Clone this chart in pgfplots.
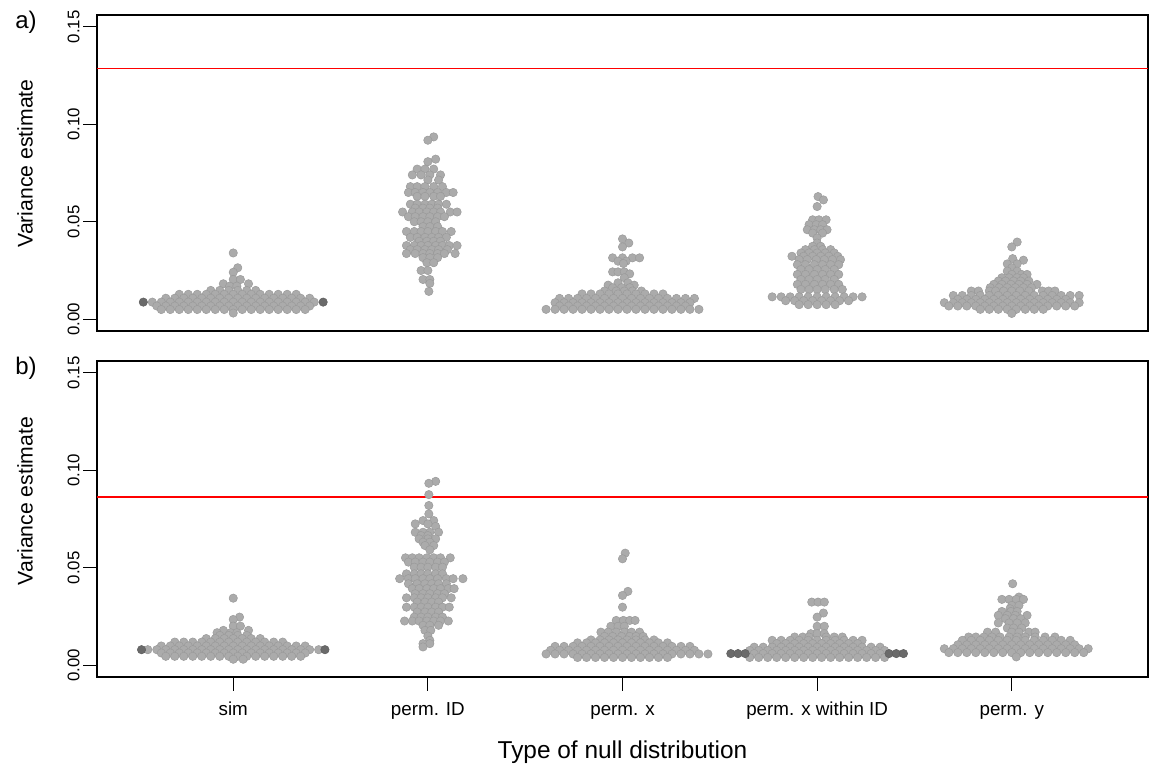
\documentclass[border=0pt]{standalone}
\usepackage{fontspec}
\setmainfont{Liberation Sans}
\usepackage{pgfplots}
\pgfplotsset{compat=1.18}
\usepackage{pgfplotstable}
\definecolor{ptfill}{HTML}{ABABAB}
\definecolor{ptdraw}{HTML}{9A9A9A}
\definecolor{dkfill}{HTML}{6A6A6A}
\definecolor{dkdraw}{HTML}{5E5E5E}
\definecolor{refred}{RGB}{255,0,0}
\pgfplotsset{
  pts/.style={only marks, mark=*, mark size=2.1pt, mark options={fill=ptfill, draw=ptdraw, line width=0.25pt}},
  dk/.style={only marks, mark=*, mark size=2.1pt, mark options={fill=dkfill, draw=dkdraw, line width=0.25pt}},
}
% ---------------- panel a ----------------
\pgfplotstableread[row sep=\\]{
dx y\\
0 0.034\\ 0.5 0.0264\\ 0 0.0241\\ 0 0.0204\\ 0.8 0.0204\\ -1.1 0.0182\\ 1.7 0.0182\\ -0.4 0.017\\ 0.4 0.017\\
-2.5 0.0148\\ -1.5 0.0148\\ -0.5 0.0148\\ 0.5 0.0148\\ 1.5 0.0148\\ 2.5 0.0148\\
-6 0.0128\\ -5 0.0128\\ -4 0.0128\\ -3 0.0128\\ -2 0.0128\\ -1 0.0128\\ 0 0.0128\\ 1 0.0128\\ 2 0.0128\\ 3 0.0128\\ 4 0.0128\\ 5 0.0128\\ 6 0.0128\\ 7 0.0128\\
-7.5 0.0108\\ -6.5 0.0108\\ -5.5 0.0108\\ -4.5 0.0108\\ -3.5 0.0108\\ -2.5 0.0108\\ -1.5 0.0108\\ -0.5 0.0108\\ 0.5 0.0108\\ 1.5 0.0108\\ 2.5 0.0108\\ 3.5 0.0108\\ 4.5 0.0108\\ 5.5 0.0108\\ 6.5 0.0108\\ 7.5 0.0108\\ 8.5 0.0108\\
-9 0.0088\\ -8 0.0088\\ -7 0.0088\\ -6 0.0088\\ -5 0.0088\\ -4 0.0088\\ -3 0.0088\\ -2 0.0088\\ -1 0.0088\\ 0 0.0088\\ 1 0.0088\\ 2 0.0088\\ 3 0.0088\\ 4 0.0088\\ 5 0.0088\\ 6 0.0088\\ 7 0.0088\\ 8 0.0088\\ 9 0.0088\\
-8.5 0.0068\\ -7.5 0.0068\\ -6.5 0.0068\\ -5.5 0.0068\\ -4.5 0.0068\\ -3.5 0.0068\\ -2.5 0.0068\\ -1.5 0.0068\\ -0.5 0.0068\\ 0.5 0.0068\\ 1.5 0.0068\\ 2.5 0.0068\\ 3.5 0.0068\\ 4.5 0.0068\\ 5.5 0.0068\\ 6.5 0.0068\\ 7.5 0.0068\\ 8.5 0.0068\\
-8 0.005\\ -7 0.005\\ -6 0.005\\ -5 0.005\\ -4 0.005\\ -3 0.005\\ -2 0.005\\ -1 0.005\\ 0 0.005\\ 1 0.005\\ 2 0.005\\ 3 0.005\\ 4 0.005\\ 5 0.005\\ 6 0.005\\ 7 0.005\\ 8 0.005\\
0 0.0032\\
}\Aa
\pgfplotstableread[row sep=\\]{
dx y\\
-10 0.0088\\ 10 0.0088\\
}\Aadk
\pgfplotstableread[row sep=\\]{
dx y\\
0.6 0.0935\\ 0 0.0918\\ 0.8 0.0821\\ 0 0.0808\\
-1.1 0.077\\ -0.3 0.077\\ 0.6 0.077\\
-1.6 0.074\\ -0.7 0.074\\ 0.2 0.074\\ 1.3 0.074\\
0 0.0714\\ 1.1 0.0714\\
-1.8 0.068\\ -1.1 0.068\\ -0.3 0.068\\ 0.6 0.068\\ 1.5 0.068\\
-2 0.065\\ -1.3 0.065\\ -0.5 0.065\\ 0.2 0.065\\ 1 0.065\\ 1.9 0.065\\ 2.6 0.065\\
-1.1 0.063\\ -0.3 0.063\\ 0.6 0.063\\ 1.3 0.063\\
-1.8 0.059\\ -1.1 0.059\\ -0.3 0.059\\ 0.4 0.059\\ 1.1 0.059\\ 1.9 0.059\\
-1.3 0.057\\ -0.5 0.057\\ 0.2 0.057\\ 1 0.057\\
-2.6 0.055\\ -1.6 0.055\\ -0.9 0.055\\ -0.1 0.055\\ 0.6 0.055\\ 1.3 0.055\\ 2.3 0.055\\ 3 0.055\\
-2 0.0526\\ -1.3 0.0526\\ -0.5 0.0526\\ 0.2 0.0526\\ 1 0.0526\\ 1.7 0.0526\\
-1.4 0.05\\ -0.7 0.05\\ 0 0.05\\ 0.8 0.05\\
-0.5 0.0475\\ 0.2 0.0475\\ 1 0.0475\\
-2.2 0.045\\ -1.4 0.045\\ -0.7 0.045\\ 0 0.045\\ 0.8 0.045\\ 1.5 0.045\\ 2.4 0.045\\
-1.8 0.042\\ -1.1 0.042\\ -0.3 0.042\\ 0.4 0.042\\ 1.1 0.042\\ 1.9 0.042\\
-0.9 0.04\\ -0.1 0.04\\ 0.6 0.04\\ 1.3 0.04\\
-2.2 0.0378\\ -1.4 0.0378\\ -0.7 0.0378\\ 0 0.0378\\ 0.8 0.0378\\ 1.5 0.0378\\ 2.2 0.0378\\ 3 0.0378\\
-1.8 0.0357\\ -1.1 0.0357\\ -0.3 0.0357\\ 0.4 0.0357\\ 1.1 0.0357\\ 2 0.0357\\
-2.2 0.0337\\ -1.3 0.0337\\ -0.5 0.0337\\ 0.2 0.0337\\ 1 0.0337\\ 1.7 0.0337\\ 2.8 0.0337\\
-0.5 0.0316\\ 0.2 0.0316\\ 1 0.0316\\
-0.1 0.029\\ 0.6 0.029\\
-0.7 0.025\\ 0 0.025\\
-0.5 0.0204\\ 0.2 0.0204\\
0.2 0.0184\\ 0.1 0.0143\\
}\Ab
\pgfplotstableread[row sep=\\]{
dx y\\
0 0.0412\\ 0.7 0.0391\\ 0 0.0371\\
-1.1 0.0315\\ 0 0.0315\\ 1.1 0.0315\\ 1.9 0.0315\\
-0.5 0.0298\\ 0.4 0.0298\\ 0.1 0.0286\\
-1.1 0.0243\\ -0.5 0.0243\\ 0.2 0.0243\\ 0.8 0.0233\\ 0.2 0.0213\\
-0.5 0.0187\\ 0.6 0.0187\\ -1.6 0.0175\\ 1.3 0.0175\\
-1.1 0.0162\\ -0.1 0.0162\\ 0.8 0.0162\\
-2 0.0145\\ -0.7 0.0145\\ 0.2 0.0145\\ 1.1 0.0145\\ 2.1 0.0145\\
-4.5 0.013\\ -3.5 0.013\\ -2.5 0.013\\ -1.5 0.013\\ -0.5 0.013\\ 0.5 0.013\\ 1.5 0.013\\ 2.5 0.013\\ 3.5 0.013\\ 4.5 0.013\\
-7 0.0107\\ -6 0.0107\\ -5 0.0107\\ -4 0.0107\\ -3 0.0107\\ -2 0.0107\\ -1 0.0107\\ 0 0.0107\\ 1 0.0107\\ 2 0.0107\\ 3 0.0107\\ 4 0.0107\\ 5 0.0107\\ 6 0.0107\\ 7 0.0107\\ 8 0.0107\\
-7.5 0.0085\\ -6.5 0.0085\\ -5.5 0.0085\\ -4.5 0.0085\\ -3.5 0.0085\\ -2.5 0.0085\\ -1.5 0.0085\\ -0.5 0.0085\\ 0.5 0.0085\\ 1.5 0.0085\\ 2.5 0.0085\\ 3.5 0.0085\\ 4.5 0.0085\\ 5.5 0.0085\\ 6.5 0.0085\\ 7.5 0.0085\\
-7 0.0068\\ -6 0.0068\\ -5 0.0068\\ -4 0.0068\\ -3 0.0068\\ -2 0.0068\\ -1 0.0068\\ 0 0.0068\\ 1 0.0068\\ 2 0.0068\\ 3 0.0068\\ 4 0.0068\\ 5 0.0068\\ 6 0.0068\\ 7 0.0068\\
-8.5 0.0051\\ -7.5 0.0051\\ -6.5 0.0051\\ -5.5 0.0051\\ -4.5 0.0051\\ -3.5 0.0051\\ -2.5 0.0051\\ -1.5 0.0051\\ -0.5 0.0051\\ 0.5 0.0051\\ 1.5 0.0051\\ 2.5 0.0051\\ 3.5 0.0051\\ 4.5 0.0051\\ 5.5 0.0051\\ 6.5 0.0051\\ 7.5 0.0051\\ 8.5 0.0051\\
}\Ac
\pgfplotstableread[row sep=\\]{
dx y\\
0.1 0.0629\\ 0.7 0.0612\\ 0 0.0578\\
-0.5 0.051\\ 0.2 0.051\\ 1 0.051\\
-0.9 0.0485\\ -0.1 0.0485\\ 0.6 0.0485\\
-1.1 0.0459\\ -0.3 0.0459\\ 0.4 0.0459\\ 1.1 0.0459\\
-0.5 0.0442\\ 0.6 0.0442\\
0 0.0417\\ 0 0.0391\\
-0.5 0.0374\\ 0.4 0.0374\\
-1.3 0.0357\\ -0.3 0.0357\\ 0.6 0.0357\\ 1.5 0.0357\\
-1.8 0.034\\ -0.9 0.034\\ 0 0.034\\ 0.9 0.034\\ 1.9 0.034\\
-2.8 0.0323\\ -1.5 0.0323\\ -0.5 0.0323\\ 0.4 0.0323\\ 1.3 0.0323\\ 2.3 0.0323\\
-2 0.0306\\ -1.1 0.0306\\ -0.1 0.0306\\ 0.8 0.0306\\ 1.7 0.0306\\ 2.6 0.0306\\
-2.2 0.028\\ -1.3 0.028\\ -0.3 0.028\\ 0.6 0.028\\ 1.5 0.028\\ 2.4 0.028\\
-1.8 0.0255\\ -0.9 0.0255\\ 0 0.0255\\ 0.9 0.0255\\ 1.9 0.0255\\
-2.2 0.023\\ -1.3 0.023\\ -0.3 0.023\\ 0.6 0.023\\ 1.5 0.023\\ 2.4 0.023\\
-1.8 0.0204\\ -0.9 0.0204\\ 0 0.0204\\ 0.9 0.0204\\ 1.9 0.0204\\
-2.2 0.0179\\ -1.3 0.0179\\ -0.3 0.0179\\ 0.6 0.0179\\ 1.5 0.0179\\ 2.4 0.0179\\
-1.8 0.0153\\ -0.9 0.0153\\ 0 0.0153\\ 0.9 0.0153\\ 1.9 0.0153\\ 2.8 0.0153\\
-5 0.0115\\ -4 0.0115\\ -3 0.0115\\ -2 0.0115\\ -1 0.0115\\ 0 0.0115\\ 1 0.0115\\ 2 0.0115\\ 3 0.0115\\ 4 0.0115\\ 5 0.0115\\
-3.5 0.0095\\ -2.5 0.0095\\ -1.5 0.0095\\ -0.5 0.0095\\ 0.5 0.0095\\ 1.5 0.0095\\ 2.5 0.0095\\ 3.5 0.0095\\
-2 0.0075\\ -1 0.0075\\ 0 0.0075\\ 1 0.0075\\ 2 0.0075\\
}\Ad
\pgfplotstableread[row sep=\\]{
dx y\\
0.6 0.0396\\ 0 0.0371\\ 0.1 0.0311\\ 1.3 0.0303\\
-0.5 0.0284\\ 0.6 0.0284\\ 0 0.0264\\ -0.5 0.0247\\ 0.6 0.0247\\
0 0.023\\ 1.1 0.023\\ 1.7 0.023\\
-1.1 0.0213\\ -0.3 0.0213\\ 0.6 0.0213\\ 1.3 0.0213\\
-1.5 0.0196\\ -0.7 0.0196\\ 0.2 0.0196\\ 1 0.0196\\ 1.9 0.0196\\
-2 0.0179\\ -1.1 0.0179\\ -0.1 0.0179\\ 0.8 0.0179\\ 1.7 0.0179\\ 2.8 0.0179\\
-2.4 0.0162\\ -1.4 0.0162\\ -0.5 0.0162\\ 0.4 0.0162\\ 1.3 0.0162\\ 2.2 0.0162\\
-4.5 0.0145\\ -3.7 0.0145\\ -2.5 0.0145\\ -1.8 0.0145\\ -0.9 0.0145\\ 0 0.0145\\ 0.9 0.0145\\ 1.9 0.0145\\ 3.4 0.0145\\ 4.1 0.0145\\ 4.8 0.0145\\
-6.5 0.0122\\ -5.5 0.0122\\ -4.5 0.0122\\ -3.5 0.0122\\ -2.5 0.0122\\ -1.5 0.0122\\ -0.5 0.0122\\ 0.5 0.0122\\ 1.5 0.0122\\ 2.5 0.0122\\ 3.5 0.0122\\ 4.5 0.0122\\ 5.5 0.0122\\ 6.5 0.0122\\ 7.5 0.0122\\
-6 0.0102\\ -5 0.0102\\ -4 0.0102\\ -3 0.0102\\ -2 0.0102\\ -1 0.0102\\ 0 0.0102\\ 1 0.0102\\ 2 0.0102\\ 3 0.0102\\ 4 0.0102\\ 5 0.0102\\ 6 0.0102\\
-7.5 0.0085\\ -6.5 0.0085\\ -5.5 0.0085\\ -4.5 0.0085\\ -3.5 0.0085\\ -2.5 0.0085\\ -1.5 0.0085\\ -0.5 0.0085\\ 0.5 0.0085\\ 1.5 0.0085\\ 2.5 0.0085\\ 3.5 0.0085\\ 4.5 0.0085\\ 5.5 0.0085\\ 6.5 0.0085\\ 7.5 0.0085\\
-7 0.0068\\ -6 0.0068\\ -5 0.0068\\ -4 0.0068\\ -3 0.0068\\ -2 0.0068\\ -1 0.0068\\ 0 0.0068\\ 1 0.0068\\ 2 0.0068\\ 3 0.0068\\ 4 0.0068\\ 5 0.0068\\ 6 0.0068\\ 7 0.0068\\
-3.5 0.0051\\ -2.5 0.0051\\ -1.5 0.0051\\ -0.5 0.0051\\ 0.5 0.0051\\ 1.5 0.0051\\ 2.5 0.0051\\ 3.5 0.0051\\
0 0.003\\
}\Ae
% ---------------- panel b ----------------
\pgfplotstableread[row sep=\\]{
dx y\\
0 0.0344\\ 0.7 0.0247\\ 0 0.0235\\ 0 0.0201\\ 0.8 0.0201\\ -1.1 0.0179\\ 1.7 0.0179\\
-1.8 0.0167\\ -0.3 0.0167\\ 0.4 0.0167\\
-1.5 0.0153\\ -0.5 0.0153\\ 0.5 0.0153\\ 1.5 0.0153\\
-3 0.0137\\ -2 0.0137\\ -1 0.0137\\ 0 0.0137\\ 1 0.0137\\ 2 0.0137\\ 3 0.0137\\
-6.5 0.0119\\ -5.5 0.0119\\ -4.5 0.0119\\ -3.5 0.0119\\ -2.5 0.0119\\ -1.5 0.0119\\ -0.5 0.0119\\ 0.5 0.0119\\ 1.5 0.0119\\ 2.5 0.0119\\ 3.5 0.0119\\ 4.5 0.0119\\ 5.5 0.0119\\
-8 0.0099\\ -7 0.0099\\ -6 0.0099\\ -5 0.0099\\ -4 0.0099\\ -3 0.0099\\ -2 0.0099\\ -1 0.0099\\ 0 0.0099\\ 1 0.0099\\ 2 0.0099\\ 3 0.0099\\ 4 0.0099\\ 5 0.0099\\ 6 0.0099\\ 7 0.0099\\ 8 0.0099\\
-9.5 0.008\\ -8.5 0.008\\ -7.5 0.008\\ -6.5 0.008\\ -5.5 0.008\\ -4.5 0.008\\ -3.5 0.008\\ -2.5 0.008\\ -1.5 0.008\\ -0.5 0.008\\ 0.5 0.008\\ 1.5 0.008\\ 2.5 0.008\\ 3.5 0.008\\ 4.5 0.008\\ 5.5 0.008\\ 6.5 0.008\\ 7.5 0.008\\ 8.5 0.008\\ 9.5 0.008\\
-8 0.0063\\ -7 0.0063\\ -6 0.0063\\ -5 0.0063\\ -4 0.0063\\ -3 0.0063\\ -2 0.0063\\ -1 0.0063\\ 0 0.0063\\ 1 0.0063\\ 2 0.0063\\ 3 0.0063\\ 4 0.0063\\ 5 0.0063\\ 6 0.0063\\ 7 0.0063\\ 8 0.0063\\
-7.5 0.0046\\ -6.5 0.0046\\ -5.5 0.0046\\ -4.5 0.0046\\ -3.5 0.0046\\ -2.5 0.0046\\ -1.5 0.0046\\ -0.5 0.0046\\ 0.5 0.0046\\ 1.5 0.0046\\ 2.5 0.0046\\ 3.5 0.0046\\ 4.5 0.0046\\ 5.5 0.0046\\ 6.5 0.0046\\ 7.5 0.0046\\
0 0.0031\\ 1.1 0.0031\\
}\Ba
\pgfplotstableread[row sep=\\]{
dx y\\
-10.2 0.008\\ 10.2 0.008\\
}\Badk
\pgfplotstableread[row sep=\\]{
dx y\\
0.8 0.0943\\ 0.1 0.0933\\ 0.1 0.0875\\ 0.1 0.0819\\ 0.1 0.0776\\
-0.5 0.0742\\ 0.6 0.0742\\ -1.3 0.0725\\ 0 0.0725\\ 0.8 0.0712\\
-1.3 0.0682\\ -0.5 0.0682\\ 0.2 0.0682\\ 1.1 0.0682\\
-0.7 0.0665\\ 0 0.0665\\
-0.9 0.0648\\ 0 0.0648\\ 0.8 0.0648\\
-0.5 0.0631\\ 0.2 0.0631\\ -0.3 0.0614\\ 0.6 0.0614\\ 0.2 0.0592\\
-2.3 0.0551\\ -1.6 0.0551\\ -0.9 0.0551\\ -0.1 0.0551\\ 0.6 0.0551\\ 1.3 0.0551\\ 2.3 0.0551\\
-2 0.0529\\ -1.3 0.0529\\ -0.5 0.0529\\ 0.2 0.0529\\ 1 0.0529\\ 1.7 0.0529\\
-1.4 0.0503\\ -0.7 0.0503\\ 0 0.0503\\ 0.8 0.0503\\ 1.5 0.0503\\
-2.2 0.0469\\ -1.4 0.0469\\ -0.7 0.0469\\ 0 0.0469\\ 0.8 0.0469\\ 1.5 0.0469\\
-2.9 0.0444\\ -2 0.0444\\ -1.3 0.0444\\ -0.5 0.0444\\ 0.2 0.0444\\ 1 0.0444\\ 1.9 0.0444\\ 2.6 0.0444\\ 3.6 0.0444\\
-2 0.0418\\ -1.1 0.0418\\ -0.3 0.0418\\ 0.4 0.0418\\ 1.1 0.0418\\ 1.9 0.0418\\
-1.6 0.0393\\ -0.9 0.0393\\ -0.1 0.0393\\ 0.6 0.0393\\ 1.3 0.0393\\ 2.1 0.0393\\ 2.7 0.0393\\
-1.3 0.0367\\ -0.5 0.0367\\ 0.2 0.0367\\ 1 0.0367\\ 1.7 0.0367\\
-2.2 0.0346\\ -1.4 0.0346\\ -0.7 0.0346\\ 0 0.0346\\ 0.8 0.0346\\ 1.5 0.0346\\ 2.4 0.0346\\
-1.1 0.0324\\ -0.3 0.0324\\ 0.4 0.0324\\ 1.1 0.0324\\
-2.2 0.0298\\ -1.4 0.0298\\ -0.7 0.0298\\ 0 0.0298\\ 0.8 0.0298\\ 1.5 0.0298\\ 2.2 0.0298\\
-1.1 0.0273\\ -0.3 0.0273\\ 0.4 0.0273\\ 1.1 0.0273\\
-1.4 0.0247\\ -0.7 0.0247\\ 0 0.0247\\ 0.8 0.0247\\ 1.5 0.0247\\
-2.4 0.0227\\ -1.6 0.0227\\ -0.9 0.0227\\ -0.1 0.0227\\ 0.6 0.0227\\ 1.3 0.0227\\ 2.1 0.0227\\
-0.5 0.0205\\ 0.2 0.0205\\ 1.1 0.0205\\
-0.3 0.0179\\ 0.3 0.0179\\ 0 0.015\\ 0.2 0.0128\\ -0.5 0.0111\\ 0.2 0.0111\\ -0.5 0.0094\\
}\Bb
\pgfplotstableread[row sep=\\]{
dx y\\
0.3 0.0575\\ 0 0.0546\\ 0.6 0.0379\\ 0 0.0358\\ 0 0.0298\\
-0.7 0.023\\ 0.1 0.023\\ 0.8 0.023\\ 1.4 0.023\\
-1.3 0.02\\ -0.5 0.02\\ 0.2 0.02\\
-2.4 0.017\\ -1.6 0.017\\ -0.7 0.017\\ 0.2 0.017\\ 1 0.017\\ 1.9 0.017\\
-2 0.0148\\ -1.1 0.0148\\ -0.1 0.0148\\ 0.8 0.0148\\ 1.5 0.0148\\ 2.3 0.0148\\
-3.5 0.013\\ -2.5 0.013\\ -1.5 0.013\\ -0.5 0.013\\ 0.5 0.013\\ 1.5 0.013\\ 2.5 0.013\\ 3.5 0.013\\
-5 0.0115\\ -4 0.0115\\ -3 0.0115\\ -2 0.0115\\ -1 0.0115\\ 0 0.0115\\ 1 0.0115\\ 2 0.0115\\ 3 0.0115\\ 4 0.0115\\ 5 0.0115\\
-7.5 0.0097\\ -6.5 0.0097\\ -5.5 0.0097\\ -4.5 0.0097\\ -3.5 0.0097\\ -2.5 0.0097\\ -1.5 0.0097\\ -0.5 0.0097\\ 0.5 0.0097\\ 1.5 0.0097\\ 2.5 0.0097\\ 3.5 0.0097\\ 4.5 0.0097\\ 5.5 0.0097\\ 6.5 0.0097\\ 7.5 0.0097\\
-8 0.0077\\ -7 0.0077\\ -6 0.0077\\ -5 0.0077\\ -4 0.0077\\ -3 0.0077\\ -2 0.0077\\ -1 0.0077\\ 0 0.0077\\ 1 0.0077\\ 2 0.0077\\ 3 0.0077\\ 4 0.0077\\ 5 0.0077\\ 6 0.0077\\ 7 0.0077\\ 8 0.0077\\
-8.5 0.0058\\ -7.5 0.0058\\ -6.5 0.0058\\ -5.5 0.0058\\ -4.5 0.0058\\ -3.5 0.0058\\ -2.5 0.0058\\ -1.5 0.0058\\ -0.5 0.0058\\ 0.5 0.0058\\ 1.5 0.0058\\ 2.5 0.0058\\ 3.5 0.0058\\ 4.5 0.0058\\ 5.5 0.0058\\ 6.5 0.0058\\ 7.5 0.0058\\ 8.5 0.0058\\ 9.5 0.0058\\
-5 0.004\\ -4 0.004\\ -3 0.004\\ -2 0.004\\ -1 0.004\\ 0 0.004\\ 1 0.004\\ 2 0.004\\ 3 0.004\\ 4 0.004\\ 5 0.004\\
}\Bc
\pgfplotstableread[row sep=\\]{
dx y\\
-0.6 0.0324\\ 0.1 0.0324\\ 0.8 0.0324\\ 0.7 0.0268\\ 0 0.0247\\ 0 0.02\\ 0.8 0.02\\
-0.7 0.0162\\ 0 0.0162\\ 0.8 0.0162\\
-2.5 0.0145\\ -1.6 0.0145\\ -0.9 0.0145\\ 1 0.0145\\ 1.9 0.0145\\ 2.8 0.0145\\
-5 0.0128\\ -4 0.0128\\ -3 0.0128\\ -2 0.0128\\ -1 0.0128\\ 0 0.0128\\ 1 0.0128\\ 2 0.0128\\ 3 0.0128\\ 4 0.0128\\ 5 0.0128\\
-4.5 0.0111\\ -3.5 0.0111\\ -2.5 0.0111\\ -1.5 0.0111\\ -0.5 0.0111\\ 0.5 0.0111\\ 1.5 0.0111\\ 2.5 0.0111\\ 3.5 0.0111\\ 4.5 0.0111\\
-7 0.0093\\ -6 0.0093\\ -5 0.0093\\ -4 0.0093\\ -3 0.0093\\ -2 0.0093\\ -1 0.0093\\ 0 0.0093\\ 1 0.0093\\ 2 0.0093\\ 3 0.0093\\ 4 0.0093\\ 5 0.0093\\ 6 0.0093\\ 7 0.0093\\
-7.5 0.0076\\ -6.5 0.0076\\ -5.5 0.0076\\ -4.5 0.0076\\ -3.5 0.0076\\ -2.5 0.0076\\ -1.5 0.0076\\ -0.5 0.0076\\ 0.5 0.0076\\ 1.5 0.0076\\ 2.5 0.0076\\ 3.5 0.0076\\ 4.5 0.0076\\ 5.5 0.0076\\ 6.5 0.0076\\ 7.5 0.0076\\
-7 0.006\\ -6 0.006\\ -5 0.006\\ -4 0.006\\ -3 0.006\\ -2 0.006\\ -1 0.006\\ 0 0.006\\ 1 0.006\\ 2 0.006\\ 3 0.006\\ 4 0.006\\ 5 0.006\\ 6 0.006\\ 7 0.006\\
-7.5 0.004\\ -6.5 0.004\\ -5.5 0.004\\ -4.5 0.004\\ -3.5 0.004\\ -2.5 0.004\\ -1.5 0.004\\ -0.5 0.004\\ 0.5 0.004\\ 1.5 0.004\\ 2.5 0.004\\ 3.5 0.004\\ 4.5 0.004\\ 5.5 0.004\\ 6.5 0.004\\ 7.5 0.004\\
}\Bd
\pgfplotstableread[row sep=\\]{
dx y\\
-9.6 0.006\\ -8.8 0.006\\ -8 0.006\\ 8 0.006\\ 8.8 0.006\\ 9.6 0.006\\
}\Bddk
\pgfplotstableread[row sep=\\]{
dx y\\
0.1 0.0418\\ 0.8 0.035\\
-1.1 0.0338\\ -0.3 0.0338\\ 0.5 0.0338\\ 1.3 0.0338\\
0 0.0307\\ 0.8 0.0307\\ -0.2 0.029\\
-1.1 0.0276\\ -0.1 0.0276\\ 0.6 0.0276\\
-1.5 0.0256\\ -0.5 0.0256\\ 0.4 0.0256\\ 1.7 0.0256\\
-0.7 0.0239\\ 0.2 0.0239\\ 1 0.0239\\
-1.5 0.0217\\ -0.3 0.0217\\ 0.6 0.0217\\ 1.5 0.0217\\
-0.5 0.0191\\ 0.2 0.0191\\ 1.1 0.0191\\
-2.7 0.017\\ -1.8 0.017\\ 0 0.017\\ 0.8 0.017\\ 1.9 0.017\\ 2.6 0.017\\
-4.8 0.0145\\ -4 0.0145\\ -3.1 0.0145\\ -2.2 0.0145\\ -1.3 0.0145\\ -0.3 0.0145\\ 0.6 0.0145\\ 1.5 0.0145\\ 2.6 0.0145\\ 3.7 0.0145\\ 4.8 0.0145\\
-5.5 0.0128\\ -4.5 0.0128\\ -3.5 0.0128\\ -2.5 0.0128\\ -1.5 0.0128\\ -0.5 0.0128\\ 0.5 0.0128\\ 1.5 0.0128\\ 2.5 0.0128\\ 3.5 0.0128\\ 4.5 0.0128\\ 5.5 0.0128\\ 6.5 0.0128\\
-6 0.0105\\ -5 0.0105\\ -4 0.0105\\ -3 0.0105\\ -2 0.0105\\ -1 0.0105\\ 0 0.0105\\ 1 0.0105\\ 2 0.0105\\ 3 0.0105\\ 4 0.0105\\ 5 0.0105\\ 6 0.0105\\ 7 0.0105\\
-7.5 0.0085\\ -6.5 0.0085\\ -5.5 0.0085\\ -4.5 0.0085\\ -3.5 0.0085\\ -2.5 0.0085\\ -1.5 0.0085\\ -0.5 0.0085\\ 0.5 0.0085\\ 1.5 0.0085\\ 2.5 0.0085\\ 3.5 0.0085\\ 4.5 0.0085\\ 5.5 0.0085\\ 6.5 0.0085\\ 7.5 0.0085\\ 8.5 0.0085\\
-7 0.0065\\ -6 0.0065\\ -5 0.0065\\ -4 0.0065\\ -3 0.0065\\ -2 0.0065\\ -1 0.0065\\ 0 0.0065\\ 1 0.0065\\ 2 0.0065\\ 3 0.0065\\ 4 0.0065\\ 5 0.0065\\ 6 0.0065\\ 7 0.0065\\ 8 0.0065\\
0.5 0.0043\\
}\Be
\pgfplotsset{
  panel/.style={
    anchor=south west, scale only axis, width=525.5pt, height=158pt,
    xmin=0.3, xmax=5.7, ymin=-0.006, ymax=0.156,
    ytick={0,0.05,0.1,0.15}, yticklabels={0.00,0.05,0.10,0.15},
    ytick pos=left, xtick pos=bottom, tick align=outside, major tick length=7pt,
    axis line style={line width=0.6pt, black},
    every tick/.style={line width=0.6pt, black},
    yticklabel style={font=\fontsize{8.4}{10}\selectfont, rotate=90, anchor=south, inner sep=0pt},
    yticklabel shift=1.5pt,
    every axis y label/.style={at={(axis description cs:-0.0685,0.5)}, rotate=90, anchor=center, font=\fontsize{10.6}{12}\selectfont},
    ylabel={Variance estimate},
  },
}
\begin{document}
\begin{tikzpicture}
\path[use as bounding box] (0,0) rectangle (574.5pt,387pt);
\begin{axis}[panel, at={(48.5pt,221.5pt)}, xtick=\empty,
  every axis y label/.append style={at={(axis description cs:-0.0685,0.53)}}]
\addplot[pts] table[x expr=1+0.0462*\thisrow{dx}, y=y] {\Aa};
\addplot[dk]  table[x expr=1+0.0462*\thisrow{dx}, y=y] {\Aadk};
\addplot[pts] table[x expr=2+0.05*\thisrow{dx}, y=y] {\Ab};
\addplot[pts] table[x expr=3+0.0462*\thisrow{dx}, y=y] {\Ac};
\addplot[pts] table[x expr=4+0.0462*\thisrow{dx}, y=y] {\Ad};
\addplot[pts] table[x expr=5+0.0462*\thisrow{dx}, y=y] {\Ae};
\addplot[draw=refred, line width=0.8pt, mark=none] coordinates {(0.3,0.1286) (5.7,0.1286)};
\end{axis}
\begin{axis}[panel, at={(48.5pt,48.5pt)},
  xtick={1,2,3,4,5}, xticklabels={sim,perm. ID,perm. x,perm. x within ID,perm. y},
  xticklabel style={font=\fontsize{9.4}{11}\selectfont, anchor=base, inner sep=0pt},
  xticklabel shift=12.5pt,
  every axis y label/.append style={at={(axis description cs:-0.0685,0.557)}},
  xlabel={Type of null distribution},
  every axis x label/.style={at={(axis description cs:0.5,-0.258)}, anchor=base, font=\fontsize{12.2}{14}\selectfont}]
\addplot[pts] table[x expr=1+0.0462*\thisrow{dx}, y=y] {\Ba};
\addplot[dk]  table[x expr=1+0.0462*\thisrow{dx}, y=y] {\Badk};
\addplot[pts] table[x expr=2+0.05*\thisrow{dx}, y=y] {\Bb};
\addplot[pts] table[x expr=3+0.0462*\thisrow{dx}, y=y] {\Bc};
\addplot[pts] table[x expr=4+0.0462*\thisrow{dx}, y=y] {\Bd};
\addplot[dk]  table[x expr=4+0.0462*\thisrow{dx}, y=y] {\Bddk};
\addplot[pts] table[x expr=5+0.0462*\thisrow{dx}, y=y] {\Be};
\addplot[draw=refred, line width=1.1pt, mark=none] coordinates {(0.3,0.0861) (5.7,0.0861)};
\end{axis}
\node[font=\fontsize{12}{14}\selectfont, anchor=center] at (13pt,376pt) {a)};
\node[font=\fontsize{12}{14}\selectfont, anchor=center] at (13pt,203pt) {b)};
\end{tikzpicture}
\end{document}
